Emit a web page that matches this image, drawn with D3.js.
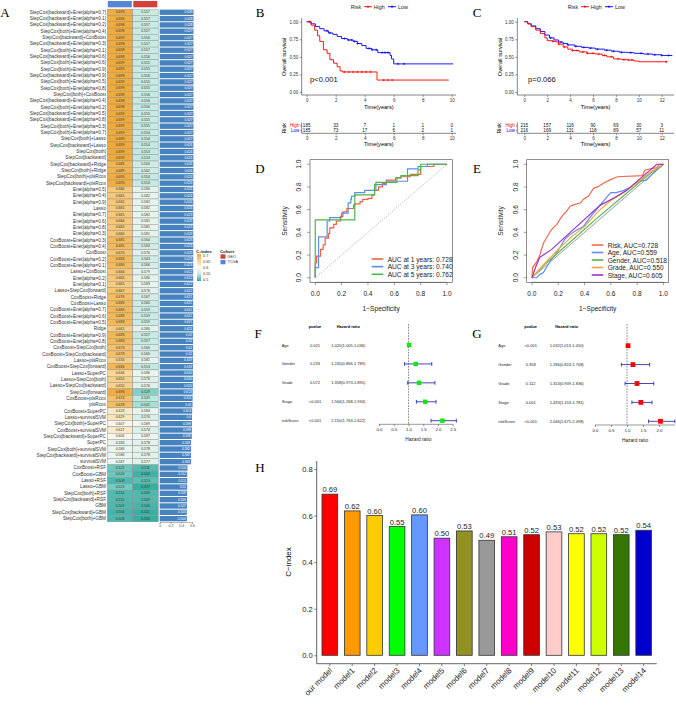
<!DOCTYPE html>
<html><head><meta charset="utf-8">
<script src="https://cdn.jsdelivr.net/npm/d3@7"></script>
<style>body{margin:0;background:#fff}svg{display:block;background:#fff}</style>
</head><body><svg id="c" width="676" height="707"></svg>
<script>
// ---------------- DATA ----------------
const hmLabels = ["StepCox[backward]+Enet[alpha=0.7]","StepCox[backward]+Enet[alpha=0.1]","StepCox[backward]+Enet[alpha=0.2]","StepCox[both]+Enet[alpha=0.4]","StepCox[backward]+CoxBoost","StepCox[backward]+Enet[alpha=0.3]","StepCox[both]+Enet[alpha=0.1]","StepCox[backward]+Enet[alpha=0.6]","StepCox[both]+Enet[alpha=0.6]","StepCox[both]+Enet[alpha=0.9]","StepCox[backward]+Enet[alpha=0.9]","StepCox[both]+Enet[alpha=0.5]","StepCox[both]+Enet[alpha=0.8]","StepCox[both]+CoxBoost","StepCox[backward]+Enet[alpha=0.4]","StepCox[both]+Enet[alpha=0.2]","StepCox[backward]+Enet[alpha=0.5]","StepCox[backward]+Enet[alpha=0.8]","StepCox[both]+Enet[alpha=0.3]","StepCox[both]+Enet[alpha=0.7]","StepCox[both]+Lasso","StepCox[backward]+Lasso","StepCox[both]","StepCox[backward]","StepCox[backward]+Ridge","StepCox[both]+Ridge","StepCox[both]+plsRcox","StepCox[backward]+plsRcox","Enet[alpha=0.5]","Enet[alpha=0.4]","Enet[alpha=0.9]","Lasso","Enet[alpha=0.7]","Enet[alpha=0.6]","Enet[alpha=0.8]","Enet[alpha=0.3]","CoxBoost+Enet[alpha=0.3]","CoxBoost+Enet[alpha=0.4]","CoxBoost","CoxBoost+Enet[alpha=0.2]","CoxBoost+Enet[alpha=0.1]","Lasso+CoxBoost","Enet[alpha=0.2]","Enet[alpha=0.1]","Lasso+StepCox[forward]","CoxBoost+Ridge","CoxBoost+Lasso","CoxBoost+Enet[alpha=0.7]","CoxBoost+Enet[alpha=0.6]","CoxBoost+Enet[alpha=0.5]","Ridge","CoxBoost+Enet[alpha=0.9]","CoxBoost+Enet[alpha=0.8]","CoxBoost+StepCox[both]","CoxBoost+StepCox[backward]","Lasso+plsRcox","CoxBoost+StepCox[forward]","Lasso+SuperPC","Lasso+StepCox[both]","Lasso+StepCox[backward]","StepCox[forward]","CoxBoost+plsRcox","plsRcox","CoxBoost+SuperPC","Lasso+survivalSVM","StepCox[both]+SuperPC","CoxBoost+survivalSVM","StepCox[backward]+SuperPC","SuperPC","StepCox[both]+survivalSVM","StepCox[backward]+survivalSVM","survivalSVM","CoxBoost+RSF","CoxBoost+GBM","Lasso+RSF","Lasso+GBM","StepCox[both]+RSF","StepCox[backward]+RSF","GBM","StepCox[backward]+GBM","StepCox[both]+GBM"];
const hmTCGA = [0.696,0.696,0.698,0.698,0.699,0.698,0.698,0.698,0.699,0.699,0.698,0.699,0.699,0.698,0.698,0.698,0.699,0.699,0.699,0.699,0.699,0.699,0.699,0.699,0.686,0.689,0.695,
0.695,0.666,0.665,0.665,0.665,0.665,0.666,0.665,0.665,0.681,0.681,0.670,0.683,0.680,0.666,0.665,0.661,0.667,0.676,0.683,0.683,0.683,0.683,0.661,0.683,0.683,0.673,
0.673,0.656,0.684,0.646,0.655,0.655,0.696,0.674,0.678,0.623,0.629,0.607,0.621,0.606,0.583,0.586,0.586,0.587,0.521,0.520,0.508,0.523,0.510,0.510,0.509,0.506,0.508];
const hmGEO = [0.557,0.557,0.557,0.557,0.556,0.557,0.557,0.556,0.555,0.555,0.556,0.555,0.555,0.556,0.556,0.556,0.555,0.555,0.555,0.554,0.554,0.554,0.553,0.553,0.564,0.562,0.554,
0.554,0.580,0.582,0.582,0.582,0.582,0.581,0.581,0.581,0.564,0.564,0.576,0.563,0.566,0.579,0.580,0.583,0.576,0.567,0.560,0.559,0.559,0.559,0.580,0.557,0.557,0.566,
0.566,0.581,0.553,0.586,0.576,0.576,0.529,0.549,0.541,0.584,0.570,0.589,0.574,0.587,0.578,0.578,0.578,0.577,0.511,0.503,0.513,0.497,0.509,0.509,0.506,0.501,0.500];
const hmMean = [0.628,0.628,0.628,0.627,0.627,0.627,0.627,0.627,0.627,0.627,0.627,0.627,0.627,0.627,0.627,0.627,0.627,0.627,0.627,0.627,0.627,0.626,0.626,0.626,0.626,0.626,0.624,
0.624,0.624,0.624,0.624,0.624,0.623,0.623,0.623,0.623,0.623,0.623,0.623,0.623,0.623,0.622,0.622,0.622,0.622,0.621,0.621,0.621,0.621,0.621,0.621,0.62,0.62,0.62,
0.62,0.619,0.618,0.616,0.616,0.616,0.613,0.611,0.61,0.603,0.6,0.598,0.598,0.596,0.583,0.582,0.582,0.582,0.516,0.512,0.511,0.51,0.509,0.509,0.507,0.503,0.504];
const cohorts = ["TCGA","GEO"];
const cindexLegendTicks = [0.7,0.65,0.6,0.55,0.5];
const barTicks = [0,0.2,0.4,0.6];

// KM panel B
const kmB_highT = [0,0.3,0.55,0.75,0.9,1.15,1.4,1.6,1.85,2.1,2.3,2.45,4.85,9.8];
const kmB_highS = [1,0.95,0.88,0.8,0.72,0.6,0.55,0.46,0.41,0.36,0.30,0.285,0.17,0.17];
const kmB_lowT = [0,0.3,0.6,0.9,1.2,1.5,1.8,2.1,2.4,2.8,3.2,3.5,3.8,4.1,4.5,4.9,5.75,5.85,6.0,10.1];
const kmB_lowS = [1,0.97,0.93,0.9,0.87,0.84,0.82,0.79,0.76,0.74,0.72,0.69,0.66,0.62,0.60,0.56,0.52,0.47,0.40,0.40];
const kmB_highCens = [2.6,2.9,3.2,3.5,3.8,4.1,4.4,5.3,5.6,5.9];
const kmB_lowCens = [0.2,1.4,1.6,2.6,2.9,3.1,3.3,3.5,4.3,4.5,4.8,5.2,5.4,5.6,6.3,6.7];
const riskB_high = [185,33,7,1,1,0];
const riskB_low = [185,73,17,6,2,1];
const timeTicksB = [0,2,4,6,8,10];
// KM panel C
const kmC_highT = [0,0.3,0.6,1,1.4,1.8,2.0,2.5,2.8,3.0,3.4,3.8,4.2,4.8,5.5,6.2,6.8,7.2,7.8,8.5,9.0,9.6,10.0,12.5];
const kmC_highS = [1,0.97,0.93,0.88,0.83,0.77,0.73,0.72,0.71,0.68,0.64,0.61,0.59,0.57,0.55,0.54,0.52,0.50,0.47,0.46,0.455,0.44,0.43,0.43];
const kmC_lowT = [0,0.3,0.6,1,1.4,1.8,2.2,2.6,3.0,3.4,3.8,4.4,5.0,5.6,6.2,7.0,7.6,8.3,9.0,9.6,10.4,11.2,12.0,12.9];
const kmC_lowS = [1,0.97,0.94,0.90,0.86,0.81,0.77,0.74,0.71,0.69,0.67,0.65,0.635,0.625,0.61,0.595,0.58,0.565,0.56,0.55,0.54,0.53,0.52,0.51];
const kmC_highCens = [2.5,3.0,3.5,4.2,4.6,5.1,5.5,6.0,6.5,7.0,7.6,8.2,8.7,9.1,9.4,12.4];
const kmC_lowCens = [2.3,3.2,3.8,4.5,5.2,5.8,6.4,7.2,7.8,8.5,9.3,10.2,10.8,11.4,12.0,12.6];
const riskC_high = [215,157,116,90,69,30,3];
const riskC_low = [216,169,131,118,89,57,11];
const timeTicksC = [0,2,4,6,8,10,12];
const survTicks = [0,0.25,0.5,0.75,1];

// ROC panel D (fpr,tpr)
const rocD_1yr_fpr = [0,0.01,0.04,0.06,0.075,0.1,0.11,0.14,0.16,0.19,0.21,0.24,0.29,0.3,0.34,0.36,0.4,0.43,0.45,0.48,0.51,0.54,0.58,0.61,0.65,0.72,0.8,0.9,0.92,1];
const rocD_1yr_tpr = [0,0.13,0.19,0.25,0.29,0.35,0.39,0.44,0.47,0.5,0.54,0.58,0.61,0.64,0.65,0.67,0.69,0.7,0.73,0.77,0.8,0.83,0.86,0.86,0.88,0.89,0.91,0.98,1,1];
const rocD_3yr_fpr = [0,0.025,0.025,0.09,0.09,0.11,0.2,0.2,0.25,0.27,0.275,0.3,0.375,0.46,0.54,0.61,0.7,0.7,0.78,0.85,0.9,1];
const rocD_3yr_tpr = [0,0.09,0.36,0.36,0.47,0.5,0.53,0.56,0.57,0.66,0.69,0.72,0.75,0.77,0.82,0.85,0.85,0.89,0.96,0.98,1,1];
const rocD_5yr_fpr = [0,0,0.3,0.3,0.45,0.46,0.62,0.65,0.78,0.8,0.92,1];
const rocD_5yr_tpr = [0,0.51,0.51,0.73,0.73,0.82,0.84,0.88,0.9,0.95,1,1];
const rocD_labels = ["AUC at 1 years: 0.728","AUC at 3 years: 0.740","AUC at 5 years: 0.762"];
// ROC panel E
const rocE_risk_fpr = [0,0.005,0.036,0.05,0.06,0.075,0.09,0.11,0.14,0.16,0.19,0.21,0.24,0.26,0.29,0.31,0.37,0.39,0.43,0.47,0.5,0.54,0.59,0.65,0.84,0.86,0.95,0.97,1];
const rocE_risk_tpr = [0,0.09,0.14,0.175,0.2,0.26,0.31,0.35,0.41,0.44,0.47,0.51,0.56,0.58,0.63,0.64,0.66,0.69,0.72,0.79,0.8,0.83,0.86,0.89,0.9,0.95,0.97,1,1];
const rocE_age_fpr = [0,0.036,0.06,0.087,0.11,0.14,0.175,0.21,0.25,0.29,0.34,0.39,0.44,0.49,0.54,0.6,0.64,0.7,0.75,0.81,0.87,0.93,1];
const rocE_age_tpr = [0,0,0.03,0.045,0.09,0.15,0.2,0.26,0.34,0.38,0.42,0.45,0.53,0.6,0.67,0.75,0.75,0.77,0.8,0.85,0.86,0.93,1];
const rocE_gender_fpr = [0,0.1,0.5,0.9,1];
const rocE_gender_tpr = [0,0.12,0.53,0.92,1];
const rocE_grade_fpr = [0,0.1,0.2,0.3,0.4,0.5,0.6,0.7,0.8,0.9,1];
const rocE_grade_tpr = [0,0.13,0.25,0.36,0.45,0.58,0.68,0.75,0.84,0.93,1];
const rocE_stage_fpr = [0,0.03,0.06,0.15,0.31,0.52,0.62,0.72,0.85,0.95,1];
const rocE_stage_tpr = [0,0.1,0.18,0.25,0.42,0.64,0.7,0.77,0.9,1,1];
const rocE_labels = ["Risk, AUC=0.728","Age, AUC=0.559","Gender, AUC=0.518","Grade, AUC=0.550","Stage, AUC=0.605"];
const rocTicks = [0,0.2,0.4,0.6,0.8,1];

// Forest F / G
const forestVars = ["Age","Gender","Grade","Stage","riskScore"];
const forestF_p = ["0.021","0.233","0.072","<0.001","<0.001"];
const forestF_hr = [1.020,1.245,1.358,1.566,2.150];
const forestF_lo = [1.005,0.866,0.973,1.268,1.763];
const forestF_hi = [1.036,1.789,1.895,1.934,2.622];
const forestF_ticks = [0,0.5,1,1.5,2,2.5];
const forestG_p = ["<0.001","0.358","0.112","0.001","<0.001"];
const forestG_hr = [1.032,1.186,1.313,1.433,2.046];
const forestG_lo = [1.013,0.824,0.939,1.153,1.675];
const forestG_hi = [1.050,1.708,1.836,1.781,2.498];
const forestG_ticks = [0,0.5,1,1.5,2];

// Panel H
const hModels = ["our model","model1","model2","model3","model4","model5","model6","model7","model8","model9","model10","model11","model12","model13","model14"];
const hValues = [0.692,0.620,0.600,0.553,0.603,0.503,0.534,0.494,0.509,0.518,0.530,0.522,0.522,0.518,0.537];
const hColors = ["#FF0000","#FF9900","#FFCC00","#00FF00","#6699FF","#CC33FF","#929222","#999999","#FF00CC","#CC0000","#FFCCCC","#FFFF00","#CCFF00","#337700","#0000CC"];
const hTicks = [0,0.2,0.4,0.6,0.8];

// ---------------- DRAW ----------------
const FS = "'Liberation Sans', Arial, sans-serif";
const SERIF = "'Liberation Serif','Times New Roman',serif";
const svg = d3.select("#c");
svg.append("rect").attr("width",676).attr("height",707).attr("fill","#fff");

function txt(g,x,y,s,o={}){
  const t=g.append("text").attr("x",x).attr("y",y).text(s)
    .attr("font-family",o.ff||FS).attr("font-size",o.fs||5).attr("fill",o.fill||"#000")
    .attr("text-anchor",o.anchor||"start").attr("dominant-baseline","central");
  if(o.weight) t.attr("font-weight",o.weight);
  if(o.rot!=null) t.attr("transform",`rotate(${o.rot},${x},${y})`);
  return t;
}
function line(g,x1,y1,x2,y2,st="#000",w=0.6,dash=null){
  const l=g.append("line").attr("x1",x1).attr("y1",y1).attr("x2",x2).attr("y2",y2).attr("stroke",st).attr("stroke-width",w);
  if(dash) l.attr("stroke-dasharray",dash);
  return l;
}

// panel letters
const letters=[["A",5,12],["B",260,12],["C",477,12],["D",260,168],["E",477,168],["F",258,333],["G",477,333],["H",260,467]];
letters.forEach(([s,x,y])=>txt(svg,x,y,s,{ff:SERIF,fs:13,anchor:"middle"}));

// ===== Panel A heatmap =====
(function(){
  const g=svg.append("g");
  const rowY=d3.scaleBand().domain(d3.range(hmLabels.length)).range([9.1,521.8]);
  const colX=d3.scaleBand().domain(cohorts).range([107.3,158.3]);
  const cellColor=d3.scaleLinear().domain([0.5,0.55,0.6,0.65,0.7])
     .range(["#34B0A3","#BEE8E0","#FBFAF4","#F9D592","#EFAA38"]).clamp(true);
  const cohortColor={GEO:"#D0413A",TCGA:"#5585D4"};
  const xBar=d3.scaleLinear().domain([0,0.6]).range([159.7,192]);
  const bw=rowY.bandwidth();
  cohorts.forEach(c=>g.append("rect").attr("x",colX(c)+0.5).attr("y",1).attr("width",colX.bandwidth()-1.5).attr("height",6.3).attr("fill",cohortColor[c]));
  hmLabels.forEach((lab,i)=>{
    const y=rowY(i);
    txt(g,106,y+bw/2,lab,{fs:4.7,anchor:"end",fill:"#333"});
    [hmTCGA[i],hmGEO[i]].forEach((v,j)=>{
      const c=cohorts[j];
      g.append("rect").attr("x",colX(c)).attr("y",y).attr("width",colX.bandwidth()).attr("height",bw)
        .attr("fill",cellColor(v)).attr("stroke","#8a8a8a").attr("stroke-width",0.4);
      txt(g,colX(c)+colX.bandwidth()/2,y+bw/2,v.toFixed(3),{fs:3.4,anchor:"middle",fill:"#333"});
    });
    const m=hmMean[i];
    g.append("rect").attr("x",xBar(0)).attr("y",y+0.5).attr("width",xBar(m)-xBar(0)).attr("height",bw-1).attr("fill","#4682BE");
    txt(g,xBar(m)-1,y+bw/2,String(+m.toFixed(3)),{fs:3.2,anchor:"end",fill:"#fff"});
  });
  const ax=g.append("g").attr("transform","translate(0,522)")
    .call(d3.axisBottom(xBar).tickValues(barTicks).tickSize(1.8).tickPadding(0.8).tickFormat(d=>d===0?"0":d3.format(".1f")(d)));
  ax.attr("font-size",3.6).attr("font-family",FS);
  ax.selectAll("path,line").attr("stroke","#555").attr("stroke-width",0.4);
  ax.selectAll("text").attr("fill","#444");
  const ly=d3.scaleLinear().domain([0.7,0.5]).range([255.5,279.5]);
  txt(g,196,251.5,"C-index",{fs:4.3,weight:"bold",fill:"#222"});
  const grad=svg.append("defs").append("linearGradient").attr("id","cg").attr("x1",0).attr("x2",0).attr("y1",0).attr("y2",1);
  cindexLegendTicks.forEach((v,k)=>grad.append("stop").attr("offset",k/(cindexLegendTicks.length-1)).attr("stop-color",cellColor(v)));
  g.append("rect").attr("x",197).attr("y",ly(0.7)-1.5).attr("width",4).attr("height",ly(0.5)-ly(0.7)+3).attr("fill","url(#cg)");
  cindexLegendTicks.forEach(v=>txt(g,203,ly(v),String(v),{fs:3.8,fill:"#333"}));
  txt(g,220,251.5,"Cohort",{fs:4.3,weight:"bold",fill:"#222"});
  ["GEO","TCGA"].forEach((c,k)=>{
    g.append("rect").attr("x",220.5).attr("y",254.3+k*5.6).attr("width",5).attr("height",4.4).attr("fill",cohortColor[c]);
    txt(g,227.5,256.5+k*5.6,c,{fs:3.8,fill:"#333"});
  });
})();

// ===== KM panels =====
function stepAt(ts,ss,t){let s=ss[0];for(let i=0;i<ts.length;i++){if(ts[i]<=t)s=ss[i];}return s;}
function drawKM(cfg){
  const g=svg.append("g");
  const x=d3.scaleLinear().domain([0,cfg.tmax]).range([cfg.x0,cfg.x1]);
  const y=d3.scaleLinear().domain([0,1]).range([92,21.7]);
  const yAx=g.append("g").attr("transform",`translate(${cfg.axX},0)`)
    .call(d3.axisLeft(y).tickValues(survTicks).tickFormat(d3.format(".2f")).tickSize(2).tickPadding(1.5));
  yAx.select(".domain").remove();
  yAx.attr("font-size",4.5).attr("font-family",FS);
  yAx.selectAll("line").attr("stroke","#333").attr("stroke-width",0.5);
  yAx.selectAll("text").attr("fill","#333");
  line(g,cfg.axX,18.2,cfg.axX,95,"#333",0.6);
  const xAx=g.append("g").attr("transform","translate(0,95)")
    .call(d3.axisBottom(x).tickValues(cfg.ticks).tickSize(2).tickPadding(1.5));
  xAx.select(".domain").remove();
  xAx.attr("font-size",4.5).attr("font-family",FS);
  xAx.selectAll("line").attr("stroke","#333").attr("stroke-width",0.5);
  xAx.selectAll("text").attr("fill","#333");
  line(g,cfg.axX,95,cfg.xEnd,95,"#333",0.6);
  txt(g,(cfg.axX+cfg.xEnd)/2,106.5,"Time(years)",{fs:5.6,anchor:"middle"});
  txt(g,cfg.axX-17.5,57,"Overall survival",{fs:5.6,anchor:"middle",rot:-90});
  const ln=d3.line().x(d=>x(d[0])).y(d=>y(d[1])).curve(d3.curveStepAfter);
  const curves=[[cfg.lowT,cfg.lowS,cfg.lowC,"#0000FF"],[cfg.highT,cfg.highS,cfg.highC,"#FF0000"]];
  curves.forEach(([T,S,C,col])=>{
    g.append("path").attr("d",ln(T.map((t,i)=>[t,S[i]]))).attr("fill","none").attr("stroke",col).attr("stroke-width",0.9);
    C.forEach(t=>{const cx=x(t),cy=y(stepAt(T,S,t));
      line(g,cx-1.2,cy,cx+1.2,cy,col,0.6);line(g,cx,cy-1.2,cx,cy+1.2,col,0.6);});
  });
  txt(g,cfg.pX,79,cfg.pText,{fs:7.6,fill:"#111"});
  const lx=cfg.lx;
  txt(g,lx,6.7,"Risk",{fs:5.4,fill:"#222"});
  [["High","#FF0000",13.3,23],["Low","#0000FF",37.3,47.3]].forEach(([s,c,a,b])=>{
    line(g,lx+a,6.7,lx+a+8,6.7,c,0.9);
    line(g,lx+a+2.8,6.7,lx+a+5.2,6.7,c,0.9);line(g,lx+a+4,5.5,lx+a+4,7.9,c,0.7);
    txt(g,lx+b,6.7,s,{fs:5.4,fill:"#222"});
  });
  const tyH=125.9,tyL=130.7,tAx=133.3;
  txt(g,cfg.axX-18,128.3,"Risk",{fs:5.4,anchor:"middle",rot:-90});
  txt(g,cfg.axX-2.5,tyH,"High",{fs:4.5,anchor:"end",fill:"#FF0000"});
  txt(g,cfg.axX-2.5,tyL,"Low",{fs:4.5,anchor:"end",fill:"#0000FF"});
  line(g,cfg.axX,122.5,cfg.axX,tAx,"#333",0.6);
  line(g,cfg.axX-1.5,tyH,cfg.axX,tyH,"#333",0.5);line(g,cfg.axX-1.5,tyL,cfg.axX,tyL,"#333",0.5);
  const tAxG=g.append("g").attr("transform",`translate(0,${tAx})`)
    .call(d3.axisBottom(x).tickValues(cfg.ticks).tickSize(2).tickPadding(1.3));
  tAxG.select(".domain").remove();
  tAxG.attr("font-size",4.5).attr("font-family",FS);
  tAxG.selectAll("line").attr("stroke","#333").attr("stroke-width",0.5);
  tAxG.selectAll("text").attr("fill","#333");
  line(g,cfg.axX,tAx,cfg.xEnd,tAx,"#333",0.6);
  cfg.ticks.forEach((t,i)=>{
    txt(g,x(t),tyH,String(cfg.riskH[i]),{fs:4.6,anchor:"middle",fill:"#111"});
    txt(g,x(t),tyL,String(cfg.riskL[i]),{fs:4.6,anchor:"middle",fill:"#111"});
  });
  txt(g,(cfg.axX+cfg.xEnd)/2,144.4,"Time(years)",{fs:5.6,anchor:"middle"});
}
drawKM({tmax:10,x0:306.7,x1:451.7,axX:301.7,xEnd:456,ticks:timeTicksB,
  highT:kmB_highT,highS:kmB_highS,lowT:kmB_lowT,lowS:kmB_lowS,highC:kmB_highCens,lowC:kmB_lowCens,
  riskH:riskB_high,riskL:riskB_low,pX:310,pText:"p<0.001",lx:350.7});
drawKM({tmax:12,x0:524.3,x1:661.7,axX:517.3,xEnd:674,ticks:timeTicksC,
  highT:kmC_highT,highS:kmC_highS,lowT:kmC_lowT,lowS:kmC_lowS,highC:kmC_highCens,lowC:kmC_lowCens,
  riskH:riskC_high,riskL:riskC_low,pX:528,pText:"p=0.066",lx:567.7});

// ===== ROC panels =====
function drawROC(cfg){
  const g=svg.append("g");
  const x=d3.scaleLinear().domain([-0.04,1.04]).range([cfg.bx0,cfg.bx1]);
  const y=d3.scaleLinear().domain([-0.04,1.04]).range([282.3,159.7]);
  g.append("rect").attr("x",cfg.bx0).attr("y",159.7).attr("width",cfg.bx1-cfg.bx0).attr("height",122.6)
    .attr("fill","none").attr("stroke","#444").attr("stroke-width",0.6);
  rocTicks.forEach(v=>{
    line(g,x(v),282.3,x(v),285.3,"#444",0.5);
    txt(g,x(v),293,d3.format(".1f")(v),{fs:6.6,anchor:"middle",fill:"#222"});
    line(g,cfg.bx0-3,y(v),cfg.bx0,y(v),"#444",0.5);
    txt(g,cfg.bx0-11.5,y(v),d3.format(".1f")(v),{fs:6.6,anchor:"middle",rot:-90,fill:"#222"});
  });
  line(g,x(0),282.3,x(1),282.3,"#444",0.5);
  txt(g,(cfg.bx0+cfg.bx1)/2,308.7,"1\u2212Specificity",{fs:6.6,anchor:"middle",fill:"#222"});
  txt(g,cfg.bx0-26,221,"Sensitivity",{fs:6.6,anchor:"middle",rot:-90,fill:"#222"});
  line(g,x(0),y(0),x(1),y(1),cfg.diagColor,cfg.diagW,cfg.diagDash);
  const ln=d3.line().x(d=>x(d[0])).y(d=>y(d[1])).curve(cfg.curve);
  cfg.series.forEach(s=>{
    g.append("path").attr("d",ln(s.f.map((f,i)=>[f,s.t[i]]))).attr("fill","none").attr("stroke",s.c).attr("stroke-width",1.2);
  });
  cfg.series.forEach((s,k)=>{
    const ly=cfg.ly0+k*cfg.ldy;
    line(g,cfg.lx,ly,cfg.lx+11.6,ly,s.c,1.6);
    txt(g,cfg.lx+16,ly,s.label,{fs:cfg.lfs,fill:"#222"});
  });
}
drawROC({bx0:310,bx1:452.3,diagColor:"#666",diagW:0.6,diagDash:"1,1.6",curve:d3.curveStepBefore,
  lx:371.7,ly0:259,ldy:7.65,lfs:6.6,
  series:[{f:rocD_1yr_fpr,t:rocD_1yr_tpr,c:"#F2603F",label:rocD_labels[0]},
          {f:rocD_3yr_fpr,t:rocD_3yr_tpr,c:"#5B8FE8",label:rocD_labels[1]},
          {f:rocD_5yr_fpr,t:rocD_5yr_tpr,c:"#4CB848",label:rocD_labels[2]}]});
drawROC({bx0:526.7,bx1:668.7,diagColor:"#555",diagW:0.6,diagDash:null,curve:d3.curveLinear,
  lx:591.7,ly0:245,ldy:7.5,lfs:6.6,
  series:[{f:rocE_risk_fpr,t:rocE_risk_tpr,c:"#F26B4F",label:rocE_labels[0]},
          {f:rocE_age_fpr,t:rocE_age_tpr,c:"#5B8DEF",label:rocE_labels[1]},
          {f:rocE_gender_fpr,t:rocE_gender_tpr,c:"#52B64C",label:rocE_labels[2]},
          {f:rocE_grade_fpr,t:rocE_grade_tpr,c:"#F9A43A",label:rocE_labels[3]},
          {f:rocE_stage_fpr,t:rocE_stage_tpr,c:"#9B30C8",label:rocE_labels[4]}]});

// ===== Forest panels =====
function drawForest(cfg){
  const g=svg.append("g");
  const x=d3.scaleLinear().domain([0,1]).range([cfg.x0,cfg.x0+cfg.k]);
  const y=d3.scalePoint().domain(forestVars).range(cfg.rows);
  txt(g,cfg.pX,326.5,"pvalue",{fs:4,anchor:"middle",weight:"bold"});
  txt(g,cfg.hrX,326.5,"Hazard ratio",{fs:4,anchor:"middle",weight:"bold"});
  line(g,x(1),324,x(1),cfg.axisY,"#555",0.7,"1.6,1.2");
  forestVars.forEach((v,i)=>{
    const yy=y(v);
    txt(g,cfg.labX,yy,v,{fs:4,fill:"#222"});
    txt(g,cfg.pX,yy,cfg.p[i],{fs:4,anchor:"middle",fill:"#222"});
    txt(g,cfg.hrX,yy,`${cfg.hr[i].toFixed(3)}(${cfg.lo[i].toFixed(3)}-${cfg.hi[i].toFixed(3)})`,{fs:4,anchor:"middle",fill:"#222"});
    line(g,x(cfg.lo[i]),yy,x(cfg.hi[i]),yy,"#1A1AA6",0.8);
    line(g,x(cfg.lo[i]),yy-1.9,x(cfg.lo[i]),yy+1.9,"#1A1AA6",0.8);
    line(g,x(cfg.hi[i]),yy-1.9,x(cfg.hi[i]),yy+1.9,"#1A1AA6",0.8);
    const s=cfg.sq;
    g.append("rect").attr("x",x(cfg.hr[i])-s/2).attr("y",yy-s/2).attr("width",s).attr("height",s).attr("fill",cfg.color);
  });
  const ax=g.append("g").attr("transform",`translate(0,${cfg.axisY})`)
    .call(d3.axisBottom(x).tickValues(cfg.ticks).tickSize(2).tickPadding(1.6).tickFormat(d3.format(".1f")).tickSizeOuter(0));
  ax.select(".domain").attr("d",`M${x(0)},0H${cfg.axisEnd}`);
  ax.attr("font-size",4.4).attr("font-family",FS);
  ax.selectAll("path,line").attr("stroke","#333").attr("stroke-width",0.5);
  ax.selectAll("text").attr("fill","#222");
  txt(g,cfg.titleX,cfg.axisY+15.5,"Hazard ratio",{fs:4.8,anchor:"middle",fill:"#222"});
}
drawForest({labX:281.7,pX:315,hrX:348.3,x0:379,k:29.5,axisY:424.3,axisEnd:453,rows:[345,420.7],
  ticks:forestF_ticks,p:forestF_p,hr:forestF_hr,lo:forestF_lo,hi:forestF_hi,color:"#00EE00",sq:4.4,titleX:418.3});
drawForest({labX:498.3,pX:530.7,hrX:566.7,x0:595,k:32,axisY:425,axisEnd:675,rows:[345.7,421.3],
  ticks:forestG_ticks,p:forestG_p,hr:forestG_hr,lo:forestG_lo,hi:forestG_hi,color:"#FF0000",sq:4.8,titleX:635});

// ===== Panel H =====
(function(){
  const g=svg.append("g");
  const x=d3.scaleBand().domain(hModels).range([317.5,656]).paddingInner(0.3).paddingOuter(0.2);
  const y=d3.scaleLinear().domain([0,0.8]).range([655.3,469]);
  hModels.forEach((m,i)=>{
    g.append("rect").attr("x",x(m)).attr("y",y(hValues[i])).attr("width",x.bandwidth()).attr("height",y(0)-y(hValues[i]))
      .attr("fill",hColors[i]).attr("stroke","#333").attr("stroke-width",0.8);
    txt(g,x(m)+x.bandwidth()/2,y(hValues[i])-4.5,hValues[i].toFixed(2),{fs:7.6,anchor:"middle",fill:"#222"});
    const cx=x(m)+x.bandwidth()/2;
    line(g,cx,663.7,cx,666.2,"#333",0.6);
    g.append("text").attr("x",cx+3).attr("y",671).attr("text-anchor","end").attr("font-size",8).attr("font-family",FS)
      .attr("fill","#222").attr("transform",`rotate(-45,${cx+3},671)`).text(m);
  });
  const ax=g.append("g").attr("transform","translate(316.7,0)")
    .call(d3.axisLeft(y).tickValues(hTicks).tickFormat(d3.format(".1f")).tickSize(2.5).tickPadding(1.5));
  ax.select(".domain").remove();
  ax.attr("font-size",7.6).attr("font-family",FS);
  ax.selectAll("line").attr("stroke","#333").attr("stroke-width",0.6);
  ax.selectAll("text").attr("fill","#222");
  line(g,316.7,461,316.7,663.7,"#222",0.7);
  line(g,316.7,663.7,656.7,663.7,"#222",0.7);
  txt(g,288.5,562,"C\u2212index",{fs:8,anchor:"middle",rot:-90,fill:"#111"});
})();
</script></body></html>
